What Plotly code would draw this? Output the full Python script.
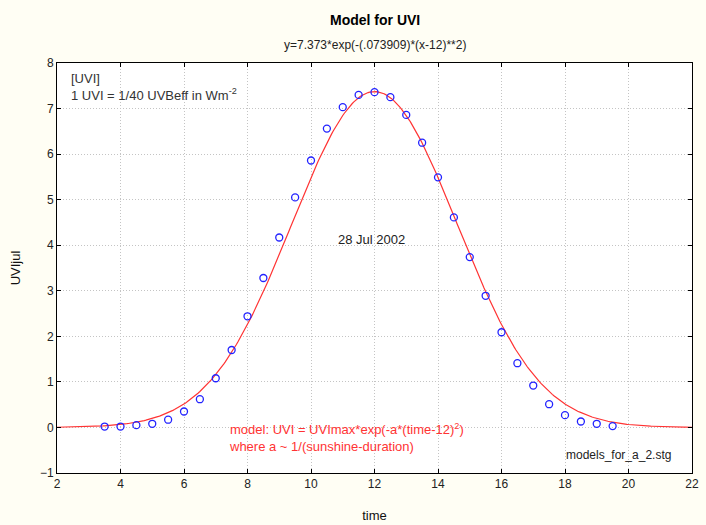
import numpy as np
import plotly.graph_objects as go

# observed data
time_obs = [3.5, 4, 4.5, 5, 5.5, 6, 6.5, 7, 7.5, 8, 8.5, 9, 9.5, 10, 10.5, 11, 11.5,
            12, 12.5, 13, 13.5, 14, 14.5, 15, 15.5, 16, 16.5, 17, 17.5, 18, 18.5, 19, 19.5]
uvi_obs = [0.02, 0.02, 0.05, 0.08, 0.17, 0.35, 0.62, 1.08, 1.70, 2.44, 3.28, 4.17, 5.05,
           5.86, 6.56, 7.03, 7.30, 7.36, 7.25, 6.86, 6.25, 5.49, 4.61, 3.74, 2.89, 2.09,
           1.41, 0.92, 0.51, 0.27, 0.13, 0.08, 0.03]

# fitted model parameters (from subtitle)
uvi_max = 7.373
a_coef = 0.073909
t_center = 12
time_fit = np.linspace(2, 22, 401)
uvi_fit = uvi_max * np.exp(-a_coef * (time_fit - t_center) ** 2)

x_ticks = [2, 4, 6, 8, 10, 12, 14, 16, 18, 20, 22]
y_ticks = [-1, 0, 1, 2, 3, 4, 5, 6, 7, 8]

font_fam = "Liberation Sans, Arial, sans-serif"

fig = go.Figure()
fig.add_trace(go.Scatter(x=time_fit, y=uvi_fit, mode="lines",
                         line=dict(color="#ff3333", width=1.2), showlegend=False))
fig.add_trace(go.Scatter(x=time_obs, y=uvi_obs, mode="markers",
                         marker=dict(symbol="circle-open", size=7, color="#2222ff",
                                     line=dict(width=1.3, color="#2222ff")),
                         showlegend=False))

axis_common = dict(showline=True, linecolor="#000000", linewidth=1, mirror="ticks",
                   ticks="inside", ticklen=4, tickcolor="#000000", automargin=False,
                   showgrid=True, gridcolor="#c4c4c4", griddash="1px,2px", gridwidth=1,
                   zeroline=False, tickfont=dict(family=font_fam, size=12, color="#222222"))

fig.update_xaxes(range=[2, 22], tickvals=x_ticks, **axis_common,
                 title=dict(text="time", font=dict(family=font_fam, size=13, color="#111111"),
                            standoff=20))
fig.update_yaxes(range=[-1, 8], tickvals=y_ticks, **axis_common,
                 title=dict(text="UVIjul", font=dict(family=font_fam, size=13, color="#111111"),
                            standoff=16))

fig.update_layout(
    width=706, height=525,
    paper_bgcolor="#fffef4", plot_bgcolor="#ffffff",
    margin=dict(l=57, r=14, t=63, b=52),
    font=dict(family=font_fam),
    annotations=[
        dict(text="<b>Model for UVI</b>", xref="paper", yref="paper", x=0.5, y=1,
             yshift=43, showarrow=False, font=dict(size=14, color="#000000"),
             xanchor="center", yanchor="middle"),
        dict(text="y=7.373*exp(-(.073909)*(x-12)**2)", xref="paper", yref="paper",
             x=0.5, y=1, yshift=18, showarrow=False, font=dict(size=12, color="#222222"),
             xanchor="center", yanchor="middle"),
        dict(text="[UVI]<br>1 UVI = 1/40 UVBeff in Wm<sup>-2</sup>", xref="paper", yref="paper",
             x=0, y=1, xshift=12, yshift=-6, showarrow=False, align="left",
             font=dict(size=13, color="#333333"), xanchor="left", yanchor="top"),
        dict(text="28 Jul 2002", xref="x", yref="y", x=11.9, y=4.13, showarrow=False,
             font=dict(size=13, color="#222222"), xanchor="center", yanchor="middle"),
        dict(text="model: UVI = UVImax*exp(-a*(time-12)<sup>2</sup>)<br>where a ~ 1/(sunshine-duration)",
             xref="x", yref="y", x=7.35, y=-0.23, showarrow=False, align="left",
             font=dict(size=13, color="#ff3333"), xanchor="left", yanchor="middle"),
        dict(text="models_for_a_2.stg", xref="paper", yref="paper", x=1, y=0,
             xshift=-19, yshift=18, showarrow=False, font=dict(size=12, color="#222222"),
             xanchor="right", yanchor="middle"),
    ],
)

fig.write_html("out.html")
